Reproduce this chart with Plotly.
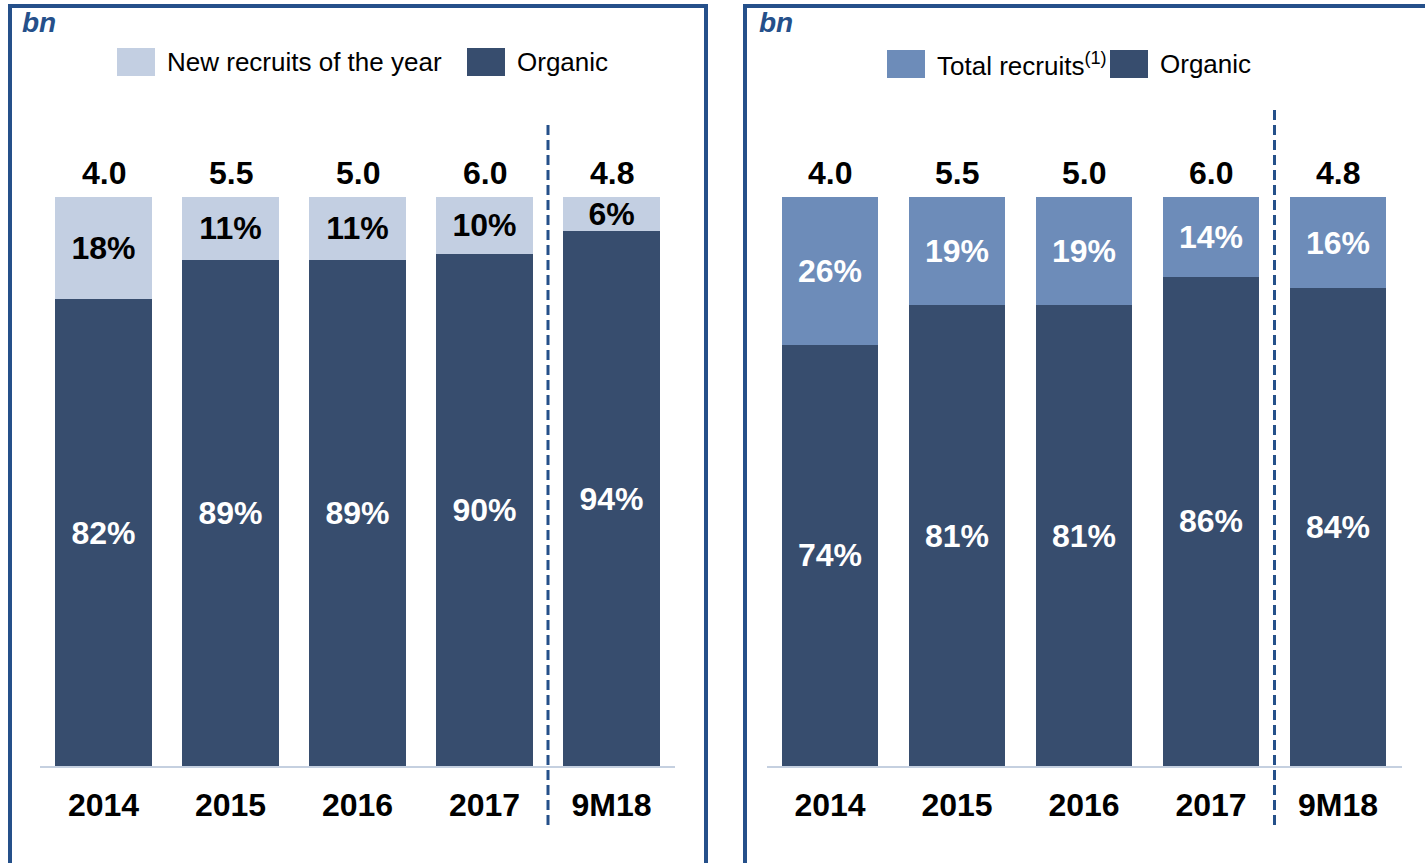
import plotly.graph_objects as go

# Data (shares in %, totals in bn)
CATEGORIES = ["2014", "2015", "2016", "2017", "9M18"]
TOTALS = ["4.0", "5.5", "5.0", "6.0", "4.8"]

LEFT_RECRUITS = [18, 11, 11, 10, 6]
LEFT_ORGANIC = [82, 89, 89, 90, 94]

RIGHT_RECRUITS = [26, 19, 19, 14, 16]
RIGHT_ORGANIC = [74, 81, 81, 86, 84]

LEFT_LEGEND = ["New recruits of the year", "Organic"]
RIGHT_LEGEND = ["Total recruits<sup>(1)</sup>", "Organic"]

W, H = 1425, 863
FONT = "Liberation Sans, Arial, sans-serif"
BORDER = "#25508A"
ORGANIC = "#374D6E"
LIGHT = "#C3CFE2"
MID = "#6D8CB9"
AXIS = "#C5D0E0"
LABEL_SIZE = 32


def px(x):
    return x / W


def py(y):
    return 1 - y / H


def seg(name, vals, color, text_color, xa, ya):
    return go.Bar(
        x=CATEGORIES, y=vals, name=name, xaxis=xa, yaxis=ya,
        marker=dict(color=color, line=dict(width=0)),
        text=[f"<b>{v}%</b>" for v in vals],
        textposition="inside", insidetextanchor="middle", textangle=0,
        constraintext="none",
        textfont=dict(family=FONT, size=LABEL_SIZE, color=text_color),
        hoverinfo="skip", showlegend=False,
    )


fig = go.Figure()
fig.add_trace(seg("Organic", LEFT_ORGANIC, ORGANIC, "white", "x", "y"))
fig.add_trace(seg(LEFT_LEGEND[0], LEFT_RECRUITS, LIGHT, "black", "x", "y"))
fig.add_trace(seg("Organic", RIGHT_ORGANIC, ORGANIC, "white", "x2", "y2"))
fig.add_trace(seg("Total recruits", RIGHT_RECRUITS, MID, "white", "x2", "y2"))

ydom = [py(766), py(197)]
xcommon = dict(
    type="category", categoryorder="array", categoryarray=CATEGORIES,
    range=[-0.5, len(CATEGORIES) - 0.5], automargin=False,
    showgrid=False, zeroline=False, ticks="", ticklen=0,
    showline=True, linecolor=AXIS, linewidth=2, ticklabelstandoff=10,
    tickvals=CATEGORIES, ticktext=[f"<b>{c}</b>" for c in CATEGORIES],
    tickfont=dict(family=FONT, size=LABEL_SIZE, color="black"),
    fixedrange=True,
)
ycommon = dict(range=[0, 100], domain=ydom, showgrid=False, zeroline=False,
               showticklabels=False, showline=False, fixedrange=True,
               automargin=False)

fig.update_layout(
    xaxis=dict(domain=[px(40), px(675)], anchor="y", **xcommon),
    xaxis2=dict(domain=[px(766.5), px(1401.5)], anchor="y2", **xcommon),
    yaxis=dict(anchor="x", **ycommon),
    yaxis2=dict(anchor="x2", **ycommon),
    barmode="stack", bargap=0.24,
    width=W, height=H, margin=dict(l=0, r=0, t=0, b=0, autoexpand=False),
    paper_bgcolor="white", plot_bgcolor="white",
    font=dict(family=FONT, color="black"),
    uniformtext=dict(mode="show", minsize=LABEL_SIZE),
    showlegend=False,
)

# Totals above each bar (category index positions on each x axis)
for xa, ya in (("x", "y"), ("x2", "y2")):
    for i, tot in enumerate(TOTALS):
        fig.add_annotation(
            x=i, y=100, xref=xa, yref=ya, text=f"<b>{tot}</b>",
            showarrow=False, yanchor="middle", yshift=24,
            font=dict(family=FONT, size=LABEL_SIZE, color="black"),
        )

shapes = []
# Panel frames
shapes.append(dict(type="rect", xref="paper", yref="paper",
                   x0=px(10), x1=px(706), y0=-0.05, y1=py(6),
                   line=dict(color=BORDER, width=4), fillcolor="rgba(0,0,0,0)"))
shapes.append(dict(type="rect", xref="paper", yref="paper",
                   x0=px(745), x1=1.05, y0=-0.05, y1=py(6),
                   line=dict(color=BORDER, width=4), fillcolor="rgba(0,0,0,0)"))
# Dashed separators between full years and 9M18
shapes.append(dict(type="line", xref="x", yref="paper", x0=3.5, x1=3.5,
                   y0=py(825), y1=py(125),
                   line=dict(color=BORDER, width=3, dash="10px,5px")))
shapes.append(dict(type="line", xref="x2", yref="paper", x0=3.5, x1=3.5,
                   y0=py(825), y1=py(110),
                   line=dict(color=BORDER, width=3, dash="10px,5px")))

# Legend swatches + labels
legend_items = [
    (117, 48, LIGHT, LEFT_LEGEND[0], 165, 62),
    (467, 48, ORGANIC, LEFT_LEGEND[1], 515, 62),
    (887, 50, MID, RIGHT_LEGEND[0], 935, 64),
    (1110, 50, ORGANIC, RIGHT_LEGEND[1], 1158, 64),
]
for sx, sy, col, label, tx, ty in legend_items:
    shapes.append(dict(type="rect", xref="paper", yref="paper",
                       x0=px(sx), x1=px(sx + 38), y0=py(sy + 28), y1=py(sy),
                       line=dict(width=0), fillcolor=col))
    fig.add_annotation(x=px(tx), y=py(ty), xref="paper", yref="paper",
                       text=label, showarrow=False, xanchor="left", yanchor="middle",
                       font=dict(family=FONT, size=26, color="black"))

fig.update_layout(shapes=shapes)

# "bn" unit labels
for x in (20, 757):
    fig.add_annotation(x=px(x), y=py(22), xref="paper", yref="paper",
                       text="<b><i>bn</i></b>", showarrow=False,
                       xanchor="left", yanchor="middle",
                       font=dict(family=FONT, size=28, color=BORDER))

fig.write_html("out.html", config={"displayModeBar": False},
               post_script="document.body.style.margin='0';")
